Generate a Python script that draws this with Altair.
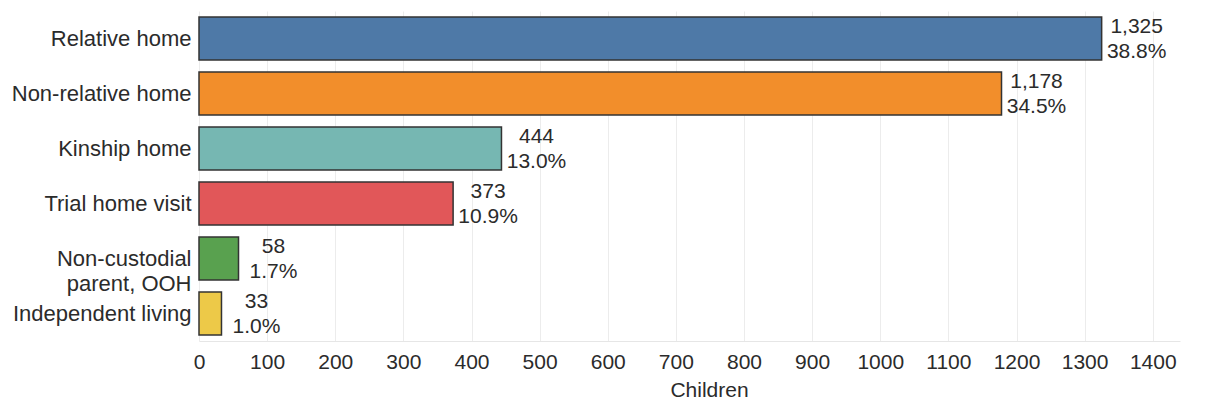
import altair as alt
import pandas as pd

categories = ["Relative home", "Non-relative home", "Kinship home", "Trial home visit",
              "Non-custodial parent, OOH", "Independent living"]
counts = [1325, 1178, 444, 373, 58, 33]
count_labels = ["1,325", "1,178", "444", "373", "58", "33"]
pct_labels = ["38.8%", "34.5%", "13.0%", "10.9%", "1.7%", "1.0%"]
colors = ["#4e79a7", "#f28e2b", "#76b7b2", "#e15759", "#59a14f", "#edc948"]
x_ticks = [0, 100, 200, 300, 400, 500, 600, 700, 800, 900, 1000, 1100, 1200, 1300, 1400]

df = pd.DataFrame({
    "cat": categories,
    "count": counts,
    "label": [c + "\n" + p for c, p in zip(count_labels, pct_labels)],
})

FONT = "Liberation Sans"
TXT = "#2b2b2b"

y_enc = alt.Y("cat:N", sort=categories,
              scale=alt.Scale(paddingInner=0.22, paddingOuter=0.11),
              axis=alt.Axis(title=None, ticks=False, domain=False, grid=False,
                            labelFontSize=22, labelFont=FONT, labelColor=TXT,
                            labelPadding=8, labelLineHeight=25, labelLimit=400,
                            labelExpr="datum.label == 'Non-custodial parent, OOH' ? ['Non-custodial', 'parent, OOH'] : datum.label"))

x_enc = alt.X("count:Q",
              scale=alt.Scale(domain=[0, 1440], nice=False),
              axis=alt.Axis(title="Children", values=x_ticks, format="d", ticks=False,
                            domain=True, domainColor="#e6e6e6",
                            grid=True, gridColor="#ececec", gridWidth=1,
                            labelFontSize=21, labelFont=FONT, labelColor=TXT,
                            labelPadding=10, labelFlush=False,
                            titleFontSize=21, titleFont=FONT, titleColor=TXT,
                            titleFontWeight="normal", titlePadding=7, titleX=510))

bars = alt.Chart(df).mark_bar(stroke="#333333", strokeWidth=1.5).encode(
    x=x_enc,
    y=y_enc,
    color=alt.Color("cat:N", sort=categories,
                    scale=alt.Scale(domain=categories, range=colors), legend=None),
)

text = alt.Chart(df).mark_text(
    align="center", baseline="middle", dx=35, dy=-12, fontSize=21, font=FONT,
    color=TXT, lineBreak="\n", lineHeight=25,
).encode(
    x="count:Q",
    y=alt.Y("cat:N", sort=categories),
    text="label:N",
)

chart = (bars + text).properties(
    width=981, height=330,
    padding={"left": 3, "top": 3, "right": 5, "bottom": 5},
).configure_view(stroke=None)

chart.save("out.html", embed_options={"renderer": "svg", "actions": False})
